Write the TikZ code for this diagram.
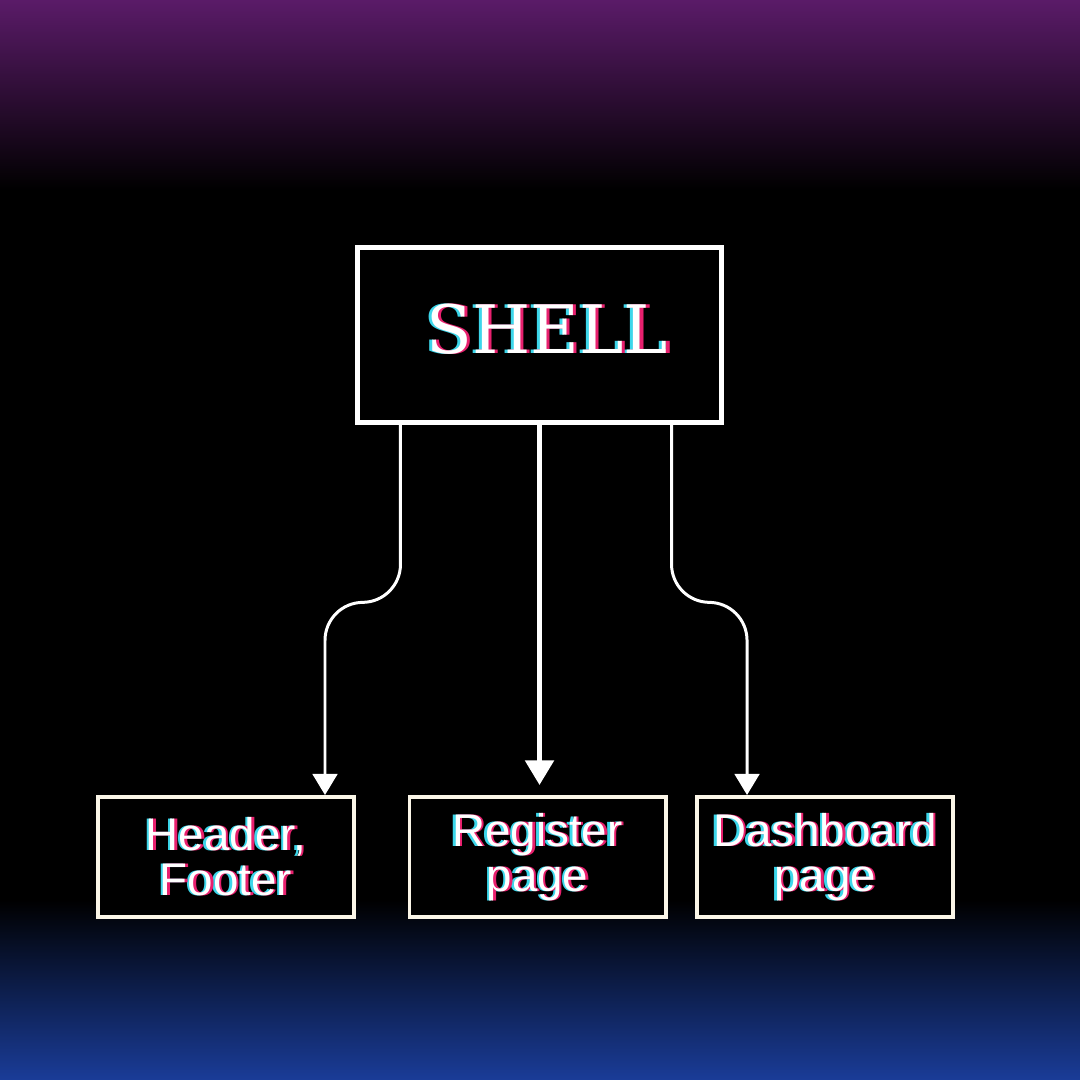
\documentclass[tikz,border=0pt]{standalone}
\usepackage{fontspec}
\setmainfont{DejaVu Serif}
\newfontfamily\boxfont{Liberation Sans}
\usetikzlibrary{arrows.meta,calc}
\definecolor{glcyan}{HTML}{3CD6EA}
\definecolor{glpink}{HTML}{E8206E}
\definecolor{topviolet}{HTML}{5A1B68}
\definecolor{botblue}{HTML}{1A3C98}
\definecolor{cream}{HTML}{FBF6E8}
\newcommand{\glitch}[2][0.7pt]{\leavevmode\rlap{\kern-#1\textcolor{glcyan}{#2}}\rlap{\kern#1\textcolor{glpink}{#2}}\textcolor{white}{#2}}
\begin{document}
\begin{tikzpicture}[x=0.01cm,y=-0.01cm,
  child/.style={draw=cream,line width=1.1pt,fill=black,minimum width=2.56cm,minimum height=1.2cm,
    align=center,inner sep=0pt,font=\boxfont\fontsize{13}{12.8}\selectfont},
  conn/.style={draw=white,line width=0.85pt,-{Triangle[width=7pt,length=6pt]}}]
\useasboundingbox (0,0) rectangle (1080,1080);
\fill[black] (0,0) rectangle (1080,1080);
\shade[top color=topviolet,bottom color=black] (0,0) rectangle (1080,190);
\shade[top color=black,bottom color=botblue] (0,900) rectangle (1080,1080);
\node[draw=white,line width=1.4pt,fill=black,minimum width=3.63cm,minimum height=1.74cm,
  font=\fontsize{19}{22}\selectfont] (shell) at (539.5,335)
  {\hspace*{0.16cm}\raisebox{0.12cm}{\glitch[0.9pt]{SHELL}}};
\node[child] (hdr) at (226,857) {\glitch{Header,}\\\glitch{Footer}};
\node[child] (reg) at (537.5,857) {\glitch{Register}\\\glitch{page}};
\node[child] (dash) at (825,857) {\glitch{Dashboard}\\\glitch{page}};
\coordinate (lmid) at ($([xshift=0.45cm]shell.south west)!0.48!([xshift=-0.31cm]hdr.north east)$);
\coordinate (rmid) at ($([xshift=-0.52cm]shell.south east)!0.48!([xshift=0.52cm]dash.north west)$);
\draw[conn,rounded corners=0.38cm] ([xshift=0.45cm]shell.south west)
  -- ([xshift=0.45cm]shell.south west |- lmid) -- ([xshift=-0.31cm]hdr.north east |- lmid)
  -- ([xshift=-0.31cm]hdr.north east);
\draw[conn,line width=1.4pt,-{Triangle[width=8pt,length=7pt]},shorten >=0.1cm]
  (shell.south) -- (shell.south |- reg.north);
\draw[conn,rounded corners=0.38cm] ([xshift=-0.52cm]shell.south east)
  -- ([xshift=-0.52cm]shell.south east |- rmid) -- ([xshift=0.52cm]dash.north west |- rmid)
  -- ([xshift=0.52cm]dash.north west);
\end{tikzpicture}
\end{document}
